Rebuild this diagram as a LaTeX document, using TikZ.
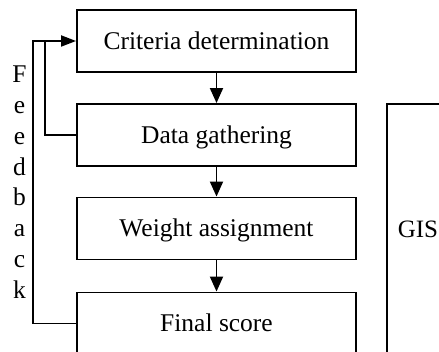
\documentclass[tikz,border=0pt]{standalone}
\usepackage{fontspec}
\setmainfont{Liberation Serif}
\usetikzlibrary{arrows.meta}
\begin{document}
\begin{tikzpicture}[x=1pt,y=-1pt,
  line width=1.9pt,
  stepbox/.style={draw, rectangle, minimum width=279pt, minimum height=62pt,
    inner sep=0pt, text height=20pt, text depth=3pt,
    font=\fontsize{25.5}{30}\selectfont},
  gisbox/.style={draw, rectangle, minimum width=62pt, minimum height=250pt,
    inner sep=0pt, text height=20pt, text depth=3pt,
    font=\fontsize{25}{30}\selectfont},
  letter/.style={anchor=base, inner sep=0pt, font=\fontsize{25.5}{30}\selectfont},
  flow/.style={-{Triangle[length=15pt,width=13pt]}},
  back/.style={-{Triangle[length=15pt,width=11pt]}}
]
\useasboundingbox (0,0) rectangle (439,352);
\clip (0,0) rectangle (439,352);

% process steps
\node[stepbox] (b1) at (216.5,41) {Criteria determination};
\node[stepbox] (b2) at (216.5,135) {Data gathering};
\node[stepbox] (b3) at (216.5,228.5) {Weight assignment};
\node[stepbox] (b4) at (216.5,323.5) {Final score};

% GIS frame on the right
\node[gisbox] (gis) at (418,229) {GIS};

% downward flow
\draw[flow] (b1) -- (b2);
\draw[flow] (b2) -- (b3);
\draw[flow] (b3) -- (b4);

% feedback loops back to the first step
\coordinate (fbOuter) at (33,41);
\coordinate (fbInner) at (45,41);
\draw[back] (b4.west) -| (fbOuter) -- (b1.west);
\draw (b2.west) -| (fbInner);

% vertical "Feedback" label
\foreach \ch [count=\i from 0] in {F,e,e,d,b,a,c,k}
  \node[letter] (fb\i) at (19.5,{82.7+30.8*\i}) {\ch};
\end{tikzpicture}
\end{document}
